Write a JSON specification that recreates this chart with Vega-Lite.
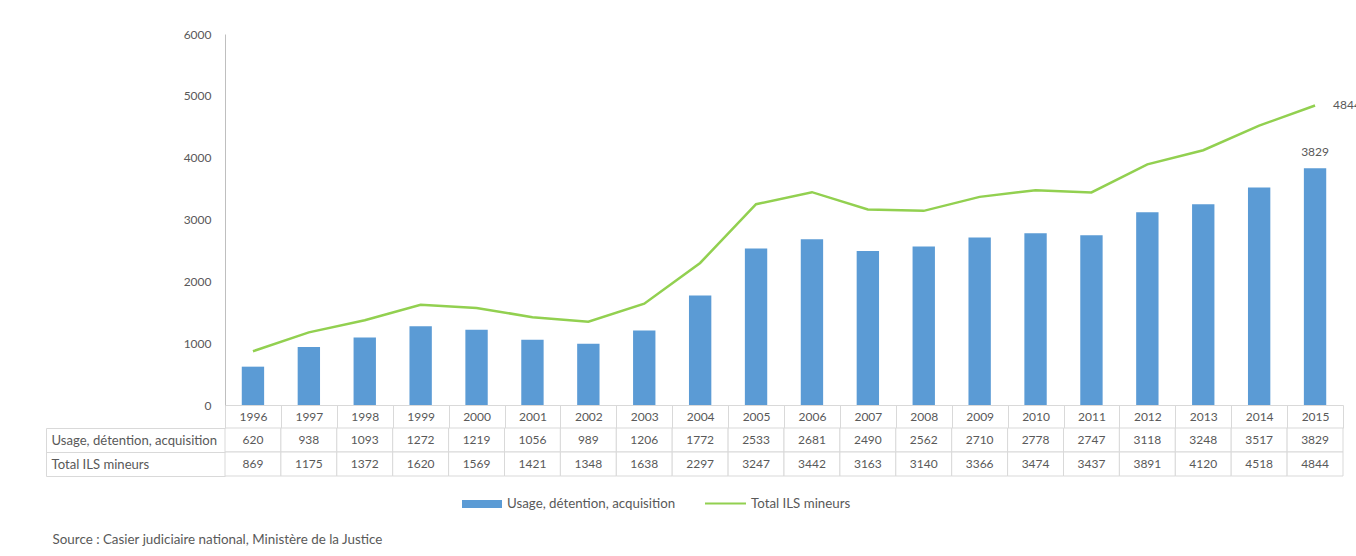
{
  "$schema": "https://vega.github.io/schema/vega-lite/v6.json",
  "padding": {"left": 45, "top": 28, "right": 0, "bottom": 0},
  "autosize": {"type": "pad"},
  "background": "white",
  "config": {
    "view": {"stroke": null},
    "font": "Lato",
    "axis": {"labelFont": "Lato", "labelFontSize": 12, "labelColor": "#595959"},
    "legend": {"labelFont": "Lato", "labelFontSize": 13.3, "labelColor": "#595959", "labelLimit": 400},
    "text": {"font": "Lato", "fontSize": 12, "color": "#595959"}
  },
  "datasets": {
    "ils": [
      {"year": "1996", "Usage, détention, acquisition": 620, "Total ILS mineurs": 869},
      {"year": "1997", "Usage, détention, acquisition": 938, "Total ILS mineurs": 1175},
      {"year": "1998", "Usage, détention, acquisition": 1093, "Total ILS mineurs": 1372},
      {"year": "1999", "Usage, détention, acquisition": 1272, "Total ILS mineurs": 1620},
      {"year": "2000", "Usage, détention, acquisition": 1219, "Total ILS mineurs": 1569},
      {"year": "2001", "Usage, détention, acquisition": 1056, "Total ILS mineurs": 1421},
      {"year": "2002", "Usage, détention, acquisition": 989, "Total ILS mineurs": 1348},
      {"year": "2003", "Usage, détention, acquisition": 1206, "Total ILS mineurs": 1638},
      {"year": "2004", "Usage, détention, acquisition": 1772, "Total ILS mineurs": 2297},
      {"year": "2005", "Usage, détention, acquisition": 2533, "Total ILS mineurs": 3247},
      {"year": "2006", "Usage, détention, acquisition": 2681, "Total ILS mineurs": 3442},
      {"year": "2007", "Usage, détention, acquisition": 2490, "Total ILS mineurs": 3163},
      {"year": "2008", "Usage, détention, acquisition": 2562, "Total ILS mineurs": 3140},
      {"year": "2009", "Usage, détention, acquisition": 2710, "Total ILS mineurs": 3366},
      {"year": "2010", "Usage, détention, acquisition": 2778, "Total ILS mineurs": 3474},
      {"year": "2011", "Usage, détention, acquisition": 2747, "Total ILS mineurs": 3437},
      {"year": "2012", "Usage, détention, acquisition": 3118, "Total ILS mineurs": 3891},
      {"year": "2013", "Usage, détention, acquisition": 3248, "Total ILS mineurs": 4120},
      {"year": "2014", "Usage, détention, acquisition": 3517, "Total ILS mineurs": 4518},
      {"year": "2015", "Usage, détention, acquisition": 3829, "Total ILS mineurs": 4844}
    ]
  },
  "title": {
    "text": "Source : Casier judiciaire national, Ministère de la Justice",
    "orient": "bottom",
    "anchor": "start",
    "frame": "bounds",
    "font": "Lato",
    "fontSize": 13.4,
    "fontWeight": "normal",
    "color": "#595959",
    "offset": 22,
    "dx": 7
  },
  "bounds": "flush",
  "spacing": 23,
  "vconcat": [
    {
      "width": 1118,
      "height": 371,
      "data": {"name": "ils"},
      "encoding": {
        "x": {
          "field": "year",
          "type": "ordinal",
          "scale": {"paddingInner": 0, "paddingOuter": 0},
          "axis": {
            "title": null,
            "labelAngle": 0,
            "tickBand": "extent",
            "tickSize": 23,
            "tickColor": "#d9d9d9",
            "domainColor": "#d9d9d9",
            "labelPadding": -17,
            "labelBaseline": "top"
          }
        }
      },
      "layer": [
        {
          "mark": {"type": "bar", "width": {"band": 0.4}},
          "encoding": {
            "y": {
              "field": "Usage, détention, acquisition",
              "type": "quantitative",
              "scale": {"domain": [0, 6000], "nice": false},
              "axis": {
                "title": null,
                "values": [0, 1000, 2000, 3000, 4000, 5000, 6000],
                "format": "d",
                "ticks": false,
                "grid": false,
                "labelPadding": 14,
                "domainColor": "#bfbfbf"
              }
            },
            "fill": {
              "datum": "Usage, détention, acquisition",
              "scale": {"range": ["#5B9BD5"]},
              "legend": {
                "orient": "none",
                "legendX": 237,
                "legendY": 450,
                "title": null,
                "symbolType": "M-1,-0.2H1V0.2H-1Z",
                "symbolSize": 1600,
                "symbolStrokeWidth": 0,
                "labelOffset": 5
              }
            }
          }
        },
        {
          "mark": {"type": "line", "strokeWidth": 2.5},
          "encoding": {
            "y": {"field": "Total ILS mineurs", "type": "quantitative"},
            "stroke": {
              "datum": "Total ILS mineurs",
              "scale": {"range": ["#92D050"]},
              "legend": {
                "orient": "none",
                "legendX": 479,
                "legendY": 448,
                "title": null,
                "symbolType": "stroke",
                "symbolSize": 1681,
                "symbolStrokeWidth": 2,
                "labelOffset": 4
              }
            }
          }
        },
        {
          "transform": [{"filter": "datum.year == '2015'"}],
          "mark": {"type": "text", "baseline": "bottom", "dy": -9},
          "encoding": {
            "y": {"field": "Usage, détention, acquisition", "type": "quantitative"},
            "text": {"field": "Usage, détention, acquisition", "type": "quantitative", "format": "d"}
          }
        },
        {
          "transform": [{"filter": "datum.year == '2015'"}],
          "mark": {"type": "text", "align": "left", "baseline": "middle", "dx": 18},
          "encoding": {
            "y": {"field": "Total ILS mineurs", "type": "quantitative"},
            "text": {"field": "Total ILS mineurs", "type": "quantitative", "format": "d"}
          }
        }
      ]
    },
    {
      "width": 1118,
      "height": 48,
      "data": {"name": "ils"},
      "transform": [
        {"fold": ["Usage, détention, acquisition", "Total ILS mineurs"], "as": ["serie", "valeur"]}
      ],
      "encoding": {
        "x": {
          "field": "year",
          "type": "ordinal",
          "scale": {"paddingInner": 0, "paddingOuter": 0},
          "axis": null
        },
        "y": {
          "field": "serie",
          "type": "nominal",
          "sort": ["Usage, détention, acquisition", "Total ILS mineurs"],
          "scale": {"paddingInner": 0, "paddingOuter": 0},
          "axis": {
            "title": null,
            "offset": 179,
            "domainColor": "#d9d9d9",
            "ticks": true,
            "tickSize": -179,
            "tickBand": "extent",
            "tickColor": "#d9d9d9",
            "labelAlign": "left",
            "labelPadding": 174,
            "labelFontSize": 13.1,
            "labelLimit": 175
          }
        }
      },
      "layer": [
        {"mark": {"type": "rect", "fill": "white", "stroke": "#d9d9d9", "strokeWidth": 1}},
        {
          "mark": {"type": "text"},
          "encoding": {"text": {"field": "valeur", "type": "quantitative", "format": "d"}}
        }
      ]
    }
  ]
}
